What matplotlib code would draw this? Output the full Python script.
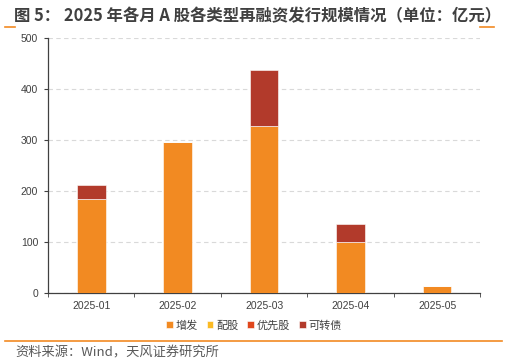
import matplotlib
matplotlib.use("Agg")
import matplotlib.pyplot as plt
import numpy as np

plt.rcParams['font.family'] = ['Noto Sans CJK SC', 'DejaVu Sans']

months = ["2025-01", "2025-02", "2025-03", "2025-04", "2025-05"]
zengfa = [183, 296, 327, 99, 14]
peigu = [0, 0, 0, 0, 0]
youxiangu = [0, 0, 0, 0, 0]
kezhuanzhai = [28, 0, 110, 35, 0]
series_names = ["增发", "配股", "优先股", "可转债"]
colors = ["#F28A22", "#FBBA24", "#E0471C", "#B23A2B"]
yticks = [0, 100, 200, 300, 400, 500]

fig = plt.figure(figsize=(5.08, 3.63), dpi=100)
ax = fig.add_axes([0.0945, 0.1936, 0.851, 0.703])

x = np.arange(len(months))
bottom = np.zeros(len(months))
handles = []
for vals, name, c in zip([zengfa, peigu, youxiangu, kezhuanzhai], series_names, colors):
    b = ax.bar(x, vals, width=0.33, bottom=bottom, color=c, edgecolor="white",
               linewidth=0.4, label=name, zorder=3)
    handles.append(b)
    bottom += np.array(vals)

tick_font = ['Liberation Sans', 'DejaVu Sans']
ax.set_xlim(-0.5, len(months) - 0.5)
ax.set_ylim(0, 500)
ax.set_yticks(yticks)
ax.set_yticklabels([str(v) for v in yticks], fontsize=7.5, color="#404040", family=tick_font)
ax.set_xticks(x)
ax.set_xticklabels(months, fontsize=7.5, color="#404040", family=tick_font)
ax.tick_params(axis='x', length=0, pad=6)
ax.set_xticks(np.arange(-0.5, len(months)), minor=True)
ax.tick_params(axis='x', which='minor', length=3, color="#404040", direction='out')
ax.tick_params(axis='y', length=3, color="#404040", direction='out', pad=4)

ax.yaxis.grid(True, linestyle=(0, (4, 3)), color="#D9D9D9", linewidth=0.8, zorder=0)
ax.set_axisbelow(True)
for s in ["top", "right"]:
    ax.spines[s].set_visible(False)
for s in ["left", "bottom"]:
    ax.spines[s].set_color("#404040")
    ax.spines[s].set_linewidth(0.9)

leg = fig.legend(handles=handles, labels=series_names, loc="center",
                 bbox_to_anchor=(0.5, 0.103), ncol=4, frameon=False,
                 fontsize=8, handlelength=0.6, handleheight=0.6,
                 handletextpad=0.25, columnspacing=0.8)
for t in leg.get_texts():
    t.set_color("#404040")

fig.text(0.028, 0.955, "图 5： 2025 年各月 A 股各类型再融资发行规模情况（单位：亿元）",
         fontsize=11.8, fontweight="bold", color="#404040", ha="left", va="center")
orange = "#F28A22"
fig.add_artist(plt.Line2D([0.01, 0.03], [0.926, 0.926], color=orange, linewidth=1.2,
                          transform=fig.transFigure))
fig.add_artist(plt.Line2D([0.945, 0.972], [0.926, 0.926], color=orange, linewidth=1.2,
                          transform=fig.transFigure))
fig.add_artist(plt.Line2D([0.01, 0.988], [0.061, 0.061], color=orange, linewidth=1.2,
                          transform=fig.transFigure))
fig.text(0.031, 0.028, "资料来源：Wind，天风证券研究所", fontsize=9.5, color="#595959",
         ha="left", va="center")

fig.savefig("out.png", dpi=100)
